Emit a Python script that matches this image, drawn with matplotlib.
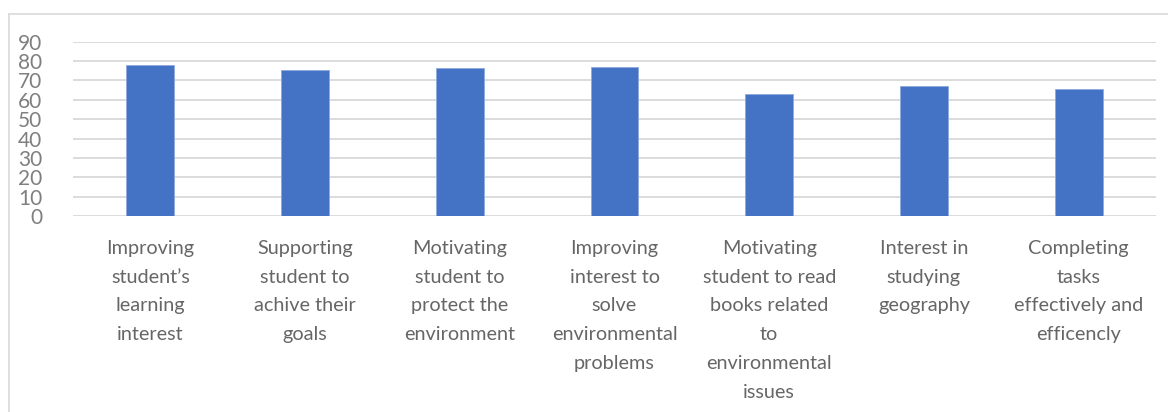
import matplotlib
matplotlib.use("Agg")
import matplotlib.pyplot as plt
from matplotlib.lines import Line2D

categories = [
    "Improving\nstudent’s\nlearning\ninterest",
    "Supporting\nstudent to\nachive their\ngoals",
    "Motivating\nstudent to\nprotect the\nenvironment",
    "Improving\ninterest to\nsolve\nenvironmental\nproblems",
    "Motivating\nstudent to read\nbooks related\nto\nenvironmental\nissues",
    "Interest in\nstudying\ngeography",
    "Completing\ntasks\neffectively and\nefficencly",
]
values = [78, 75.5, 76.2, 77.1, 63.2, 67, 65.4]
yticks = [0, 10, 20, 30, 40, 50, 60, 70, 80, 90]

plt.rcParams['font.family'] = ['Lato', 'DejaVu Sans']

W, H = 1168, 412
fig = plt.figure(figsize=(W / 100, H / 100), dpi=100)
ax = fig.add_axes([73 / W, 1 - 216 / H, (1156 - 73) / W, (216 - 41.7) / H])

x = list(range(len(categories)))
ax.bar(x, values, width=0.31, color="#4472C4", edgecolor="#8FAADC", linewidth=0.6, zorder=3)
ax.set_xlim(-0.5, len(categories) - 0.5)
ax.set_ylim(0, 90)
ax.set_yticks(yticks)
ax.set_yticklabels([str(v) for v in yticks], fontsize=15, color="#7F7F7F")
ax.set_xticks(x)
ax.set_xticklabels(categories, fontsize=14.3, color="#666666", linespacing=1.85, va="top")
ax.tick_params(axis="both", length=0)
ax.tick_params(axis="x", pad=17)
ax.tick_params(axis="y", pad=22)
ax.grid(axis="y", color="#D9D9D9", linewidth=1.3, zorder=0)
for s in ax.spines.values():
    s.set_visible(False)

fig.add_artist(Line2D([9 / W, 9 / W], [0, 1 - 13.5 / H], color="#D9D9D9", linewidth=1.2))
fig.add_artist(Line2D([9 / W, 1], [1 - 13.5 / H, 1 - 13.5 / H], color="#D9D9D9", linewidth=1.2))

fig.savefig("out.png", dpi=100)
